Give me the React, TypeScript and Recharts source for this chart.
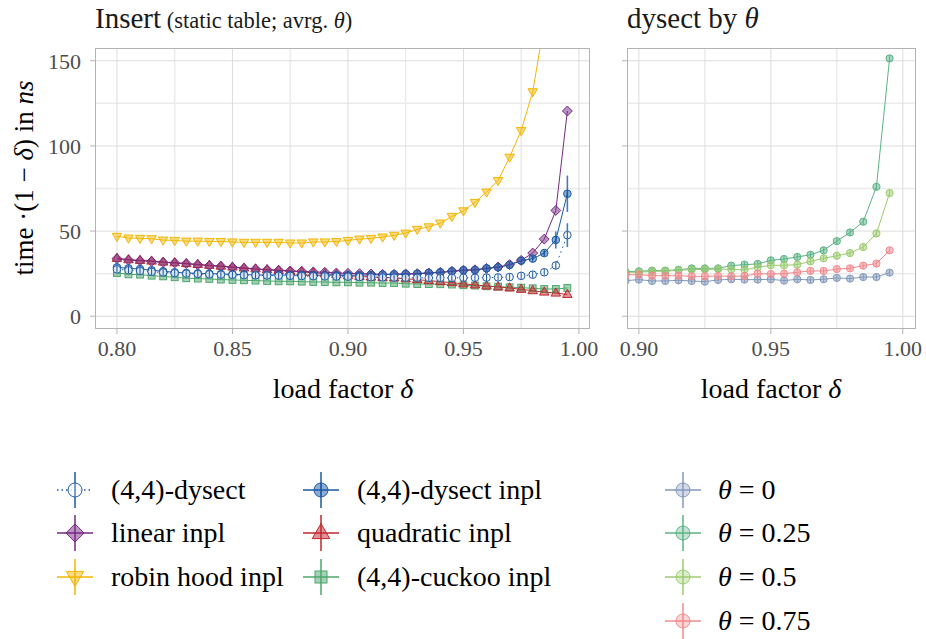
import React from 'react';
import { LineChart, Line, XAxis, YAxis, ReferenceLine, ErrorBar } from 'recharts';

// load factors (x) for the two panels
const loadLeft = [
  0.8, 0.805, 0.81, 0.815, 0.82, 0.825, 0.83, 0.835, 0.84, 0.845,
  0.85, 0.855, 0.86, 0.865, 0.87, 0.875, 0.88, 0.885, 0.89, 0.895,
  0.9, 0.905, 0.91, 0.915, 0.92, 0.925, 0.93, 0.935, 0.94, 0.945,
  0.95, 0.955, 0.96, 0.965, 0.97, 0.975, 0.98, 0.985, 0.99, 0.995,
];
const loadRight = [
  0.895, 0.9, 0.905, 0.91, 0.915, 0.92, 0.925, 0.93, 0.935, 0.94,
  0.945, 0.95, 0.955, 0.96, 0.965, 0.97, 0.975, 0.98, 0.985, 0.99, 0.995,
];

// Insert panel series: time * (1 - delta) in ns
const dysect = [
  27.5, 27.0, 26.6, 26.1, 25.7, 25.3, 25.0, 24.8, 24.6, 24.4,
  24.3, 24.1, 24.0, 23.9, 23.8, 23.7, 23.6, 23.5, 23.4, 23.3,
  23.2, 23.0, 22.9, 22.8, 22.7, 22.6, 22.6, 22.5, 22.5, 22.5,
  22.6, 22.6, 22.7, 22.8, 23.0, 23.7, 24.4, 25.8, 29.8, 47.6,
];
const dysectInpl = [
  28.7, 28.1, 27.7, 27.0, 26.4, 25.8, 25.4, 25.2, 25.0, 24.8,
  24.6, 24.4, 24.2, 24.2, 24.2, 24.1, 24.1, 24.1, 24.1, 24.1,
  24.1, 24.1, 24.2, 24.4, 24.6, 24.8, 25.0, 25.4, 25.8, 26.4,
  27.0, 27.1, 28.1, 28.7, 30.1, 32.6, 33.8, 37.1, 44.8, 71.9,
];
const linear = [
  33.8, 33.0, 32.6, 32.2, 31.6, 31.3, 30.9, 30.3, 29.7, 29.3,
  28.7, 28.1, 27.7, 27.3, 27.0, 26.6, 26.4, 26.0, 25.8, 25.4,
  25.2, 25.0, 24.8, 24.6, 24.6, 24.8, 25.0, 25.4, 25.8, 26.4,
  27.0, 27.3, 28.1, 28.9, 30.3, 32.8, 37.1, 45.3, 62.1, 120.5,
];
const quadratic = [
  34.0, 33.2, 32.8, 32.4, 31.8, 31.4, 30.9, 30.4, 29.9, 29.4,
  28.9, 28.3, 27.8, 27.3, 26.9, 26.4, 26.0, 25.5, 25.0, 24.4,
  23.8, 23.4, 23.0, 22.8, 22.5, 22.0, 21.5, 20.9, 20.3, 19.7,
  19.0, 18.4, 17.8, 17.2, 16.6, 15.8, 15.0, 14.2, 13.6, 12.8,
];
const robinHood = [
  46.9, 45.9, 45.7, 45.5, 44.7, 44.5, 44.1, 44.1, 43.9, 43.9,
  43.6, 43.4, 43.4, 43.4, 43.4, 43.0, 43.0, 43.6, 43.6, 43.9,
  44.5, 45.3, 45.7, 46.5, 47.5, 48.8, 51.0, 52.5, 54.7, 58.6,
  61.9, 66.8, 72.9, 79.7, 93.4, 109.0, 131.8, 172, 240, 350,
];
const cuckoo = [
  25.4, 24.6, 24.4, 23.8, 23.4, 22.9, 22.3, 22.1, 21.9, 21.5,
  21.3, 21.1, 20.9, 20.7, 20.5, 20.5, 20.3, 20.1, 20.1, 19.9,
  19.9, 19.7, 19.7, 19.5, 19.5, 19.1, 18.9, 18.9, 18.8, 18.6,
  18.2, 18.0, 17.6, 17.4, 17.0, 16.8, 16.4, 16.0, 16.0, 16.6,
];
// error bar half-widths for the last four load factors
const dysectErrTail = [0.5, 0.8, 2.2, 7.0];
const dysectInplErrTail = [0.6, 1.2, 5.0, 10.7];

// dysect by theta panel
const theta0 = [20.9, 21.5, 20.7, 20.7, 21.1, 20.7, 20.3, 21.3, 21.7, 21.5, 21.5, 21.7, 20.9, 21.7, 21.3, 21.7, 22.5, 22.1, 23.0, 23.0, 25.6];
const theta25 = [26.2, 26.4, 26.8, 26.8, 27.3, 28.1, 28.1, 28.1, 29.7, 30.3, 30.7, 32.8, 33.6, 34.8, 36.1, 38.7, 44.1, 49.2, 55.5, 76.0, 151.4];
const theta50 = [25.8, 25.8, 26.4, 26.4, 27.0, 27.3, 27.5, 27.7, 27.5, 27.3, 28.7, 29.9, 29.9, 30.3, 32.2, 34.0, 35.5, 37.1, 40.6, 48.6, 72.3];
const theta75 = [24.4, 24.4, 23.8, 23.8, 23.8, 23.4, 23.4, 23.6, 23.4, 23.6, 25.0, 24.8, 25.0, 25.8, 26.6, 26.6, 27.7, 28.1, 29.7, 30.9, 38.7];

// axis ticks
const yMajor = [0, 50, 100, 150];
const yMinor = [25, 75, 125];
const xMajorLeft = [0.8, 0.85, 0.9, 0.95, 1.0];
const xMinorLeft = [0.825, 0.875, 0.925, 0.975];
const xMajorRight = [0.9, 0.95, 1.0];
const xMinorRight = [0.925, 0.975];

const FONT = "'Liberation Serif', 'DejaVu Serif', serif";

type Shape = 'openCircle' | 'circle' | 'diamond' | 'triUp' | 'triDown' | 'square';

const leftSeries = [
  { key: 'cuckoo', name: '(4,4)-cuckoo inpl', color: '#4ca66b', shape: 'square' as Shape },
  { key: 'quadratic', name: 'quadratic inpl', color: '#c1272d', shape: 'triUp' as Shape },
  { key: 'linear', name: 'linear inpl', color: '#762a83', shape: 'diamond' as Shape },
  { key: 'dysectInpl', name: '(4,4)-dysect inpl', color: '#1b5aa6', shape: 'circle' as Shape, err: 'dysectInplErr' },
  { key: 'dysect', name: '(4,4)-dysect', color: '#1b5aa6', shape: 'openCircle' as Shape, dash: '1.5 3.5', err: 'dysectErr' },
  { key: 'robinHood', name: 'robin hood inpl', color: '#f2b705', shape: 'triDown' as Shape },
];

const rightSeries = [
  { key: 'theta0', name: '0', color: '#8399bb' },
  { key: 'theta25', name: '0.25', color: '#5bb386' },
  { key: 'theta50', name: '0.5', color: '#9ccb70' },
  { key: 'theta75', name: '0.75', color: '#f28a8d' },
];

const n = loadLeft.length;
const leftRows = loadLeft.map((x, i) => ({
  x,
  dysect: dysect[i],
  dysectInpl: dysectInpl[i],
  linear: linear[i],
  quadratic: quadratic[i],
  robinHood: robinHood[i],
  cuckoo: cuckoo[i],
  dysectErr: i >= n - 4 ? dysectErrTail[i - (n - 4)] : 0,
  dysectInplErr: i >= n - 4 ? dysectInplErrTail[i - (n - 4)] : 0,
}));

const rightRows = loadRight.map((x, i) => ({
  x,
  theta0: theta0[i],
  theta25: theta25[i],
  theta50: theta50[i],
  theta75: theta75[i],
}));

function Marker({ shape, cx, cy, color, s, fillOpacity = 0.5 }: { shape: Shape; cx: number; cy: number; color: string; s: number; fillOpacity?: number }) {
  const common = { stroke: color, strokeWidth: 1, fill: color, fillOpacity };
  if (shape === 'openCircle' || shape === 'circle') {
    return (
      <g>
        <circle cx={cx} cy={cy} r={s} {...common} fill={shape === 'openCircle' ? '#ffffff' : color} fillOpacity={shape === 'openCircle' ? 0.8 : fillOpacity} />
        <line x1={cx} x2={cx} y1={cy - s + 0.5} y2={cy + s - 0.5} stroke={color} strokeWidth={1} />
      </g>
    );
  }
  if (shape === 'diamond') {
    const d = s * 1.3;
    return <polygon points={`${cx},${cy - d} ${cx + d},${cy} ${cx},${cy + d} ${cx - d},${cy}`} {...common} />;
  }
  if (shape === 'triUp') {
    const w = s * 1.25;
    return <polygon points={`${cx},${cy - s * 1.35} ${cx + w},${cy + s * 0.8} ${cx - w},${cy + s * 0.8}`} {...common} />;
  }
  if (shape === 'triDown') {
    const w = s * 1.25;
    return <polygon points={`${cx},${cy + s * 1.35} ${cx + w},${cy - s * 0.8} ${cx - w},${cy - s * 0.8}`} {...common} />;
  }
  return <rect x={cx - s} y={cy - s} width={s * 2} height={s * 2} {...common} />;
}

const dotFor = (key: string, shape: Shape, color: string, s: number) => (p: any) => {
  if (p.cx == null || p.cy == null) return <g key={`${key}-${p.index}`} />;
  return (
    <g key={`${key}-${p.index}`}>
      <Marker shape={shape} cx={p.cx} cy={p.cy} color={color} s={s} />
    </g>
  );
};

const tickStyle = { fontFamily: FONT, fontSize: 22, fill: '#4d4d4d' };

export default function App() {
  const gridLines = (xMajor: number[], xMinor: number[]) => [
    ...yMinor.map((v) => <ReferenceLine key={`ym${v}`} y={v} stroke="#ebebeb" strokeWidth={1.5} />),
    ...xMinor.map((v) => <ReferenceLine key={`xm${v}`} x={v} stroke="#ebebeb" strokeWidth={1.5} />),
    ...yMajor.map((v) => <ReferenceLine key={`yM${v}`} y={v} stroke="#dcdcdc" strokeWidth={1} />),
    ...xMajor.map((v) => <ReferenceLine key={`xM${v}`} x={v} stroke="#dcdcdc" strokeWidth={1} />),
  ];

  const legendRows = [
    { col: 0, row: 0, s: leftSeries[4] },
    { col: 0, row: 1, s: leftSeries[2] },
    { col: 0, row: 2, s: leftSeries[5] },
    { col: 1, row: 0, s: leftSeries[3] },
    { col: 1, row: 1, s: leftSeries[1] },
    { col: 1, row: 2, s: leftSeries[0] },
  ];
  const keyX = [75, 321];
  const textX = [111, 357];
  const rowY = [490, 533, 577, 621];

  return (
    <div style={{ position: 'absolute', left: 0, top: 0, width: 926, height: 639, background: '#ffffff', fontFamily: FONT }}>
      <div style={{ position: 'absolute', left: 0, top: 0 }}>
        <LineChart width={600} height={380} data={leftRows} margin={{ top: 48, right: 10, bottom: 0, left: 0 }}>
          {gridLines(xMajorLeft, xMinorLeft)}
          <XAxis
            dataKey="x"
            type="number"
            domain={[0.7905, 1.0048]}
            allowDataOverflow
            ticks={xMajorLeft}
            tickFormatter={(v: number) => v.toFixed(2)}
            axisLine={false}
            tickLine={{ stroke: '#b3b3b3' }}
            tickSize={5}
            tickMargin={6}
            tick={tickStyle}
            height={51}
          />
          <YAxis
            type="number"
            domain={[-7.5, 157.5]}
            allowDataOverflow
            ticks={yMajor}
            axisLine={false}
            tickLine={{ stroke: '#b3b3b3' }}
            tickSize={5}
            tickMargin={9}
            tick={tickStyle}
            width={95}
          />
          {leftSeries.map((s) => (
            <Line
              key={s.key}
              dataKey={s.key}
              stroke={s.color}
              strokeWidth={1}
              strokeDasharray={s.dash}
              dot={dotFor(s.key, s.shape, s.color, s.shape === 'square' ? 3.4 : 3.8)}
              activeDot={false}
              isAnimationActive={false}
            >
              {s.err ? (
                <ErrorBar dataKey={s.err} direction="y" width={0} stroke={s.color} strokeWidth={1.6} strokeOpacity={0.8} isAnimationActive={false} />
              ) : null}
            </Line>
          ))}
        </LineChart>
      </div>
      <div style={{ position: 'absolute', left: 95, top: 48, width: 495, height: 281, border: '1px solid #b3b3b3', boxSizing: 'border-box', pointerEvents: 'none' }} />

      <div style={{ position: 'absolute', left: 600, top: 0 }}>
        <LineChart width={326} height={380} data={rightRows} margin={{ top: 48, right: 10, bottom: 0, left: 0 }}>
          {gridLines(xMajorRight, xMinorRight)}
          <XAxis
            dataKey="x"
            type="number"
            domain={[0.8955, 1.005]}
            allowDataOverflow
            ticks={xMajorRight}
            tickFormatter={(v: number) => v.toFixed(2)}
            axisLine={false}
            tickLine={{ stroke: '#b3b3b3' }}
            tickSize={5}
            tickMargin={6}
            tick={tickStyle}
            height={51}
          />
          <YAxis
            type="number"
            domain={[-7.5, 157.5]}
            allowDataOverflow
            ticks={yMajor}
            axisLine={false}
            tickLine={{ stroke: '#b3b3b3' }}
            tickSize={5}
            tickFormatter={() => ''}
            width={27}
          />
          {rightSeries.map((s) => (
            <Line
              key={s.key}
              dataKey={s.key}
              stroke={s.color}
              strokeWidth={1}
              dot={dotFor(s.key, 'circle', s.color, 3.6)}
              activeDot={false}
              isAnimationActive={false}
            />
          ))}
        </LineChart>
      </div>
      <div style={{ position: 'absolute', left: 627, top: 48, width: 289, height: 281, border: '1px solid #b3b3b3', boxSizing: 'border-box', pointerEvents: 'none' }} />

      <svg width={926} height={639} style={{ position: 'absolute', left: 0, top: 0, pointerEvents: 'none', fontFamily: FONT }}>
        <text x={95} y={28} fontSize={29} fill="#1a1a1a">
          Insert<tspan fontSize={22.5}> (static table; avrg. </tspan>
          <tspan fontSize={22.5} fontStyle="italic">θ</tspan>
          <tspan fontSize={22.5}>)</tspan>
        </text>
        <text x={627} y={28} fontSize={29} fill="#1a1a1a">
          dysect by <tspan fontStyle="italic">θ</tspan>
        </text>
        <text x={343} y={398} fontSize={28} textAnchor="middle" fill="#000">
          load factor <tspan fontStyle="italic">δ</tspan>
        </text>
        <text x={771} y={398} fontSize={28} textAnchor="middle" fill="#000">
          load factor <tspan fontStyle="italic">δ</tspan>
        </text>
        <text transform="translate(33,178) rotate(-90)" fontSize={27} textAnchor="middle" fill="#000">
          time ·(1 − <tspan fontStyle="italic">δ</tspan>) in <tspan fontStyle="italic">ns</tspan>
        </text>

        {legendRows.map(({ col, row, s }) => {
          const cx = keyX[col];
          const cy = rowY[row];
          return (
            <g key={s.key}>
              <line x1={cx} x2={cx} y1={cy - 18} y2={cy + 18} stroke={s.color} strokeWidth={1.5} />
              <line x1={cx - 18} x2={cx + 18} y1={cy} y2={cy} stroke={s.color} strokeWidth={1.5} strokeDasharray={s.dash ? '1.5 3' : undefined} />
              <Marker shape={s.shape} cx={cx} cy={cy} color={s.color} s={s.shape === 'square' ? 6 : 7} />
              <text x={textX[col]} y={cy + 9} fontSize={28} fill="#000">{s.name}</text>
            </g>
          );
        })}
        {rightSeries.map((s, i) => {
          const cx = 683;
          const cy = rowY[i];
          return (
            <g key={s.key}>
              <line x1={cx} x2={cx} y1={cy - 18} y2={cy + 18} stroke={s.color} strokeWidth={1.5} />
              <line x1={cx - 18} x2={cx + 18} y1={cy} y2={cy} stroke={s.color} strokeWidth={1.5} />
              <circle cx={cx} cy={cy} r={7} stroke={s.color} strokeWidth={1} fill={s.color} fillOpacity={0.35} />
              <text x={718} y={cy + 9} fontSize={28} fill="#000">
                <tspan fontStyle="italic">θ</tspan> = {s.name}
              </text>
            </g>
          );
        })}
      </svg>
    </div>
  );
}
